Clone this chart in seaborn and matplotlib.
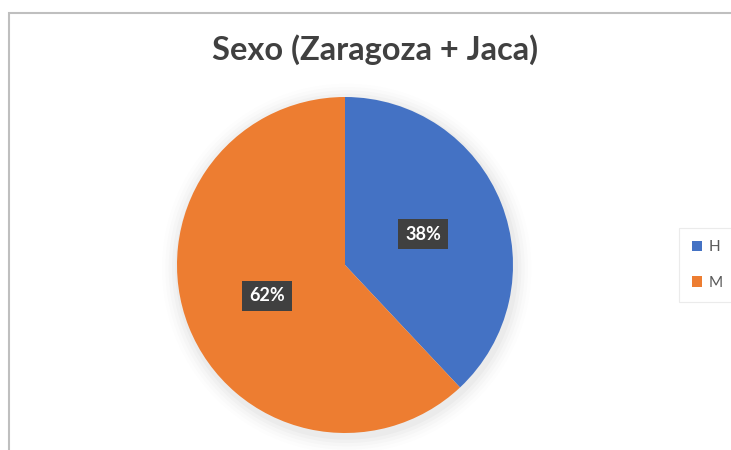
import matplotlib
matplotlib.use("Agg")
import matplotlib.pyplot as plt
import seaborn as sns
from matplotlib.patches import Rectangle, Patch, Circle

# data
labels = ["H", "M"]
shares = [38, 62]
colors = ["#4472C4", "#ED7D31"]
title = "Sexo (Zaragoza + Jaca)"

sns.set_theme(style="white")
plt.rcParams['font.family'] = ['Lato', 'DejaVu Sans']

fig = plt.figure(figsize=(7.31, 4.5), dpi=100)
fig.patch.set_facecolor("white")

# chart frame (gray border, cut by the image edge)
fig.patches.append(Rectangle((9 / 731, -0.1), 1.2, (450 - 13) / 450 + 0.1,
                             transform=fig.transFigure, fill=False,
                             edgecolor="#BFBFBF", linewidth=1.5))

cx, cy, r = 345, 265, 168
ax = fig.add_axes([(cx - r) / 731, (450 - cy - r) / 450, 2 * r / 731, 2 * r / 450])

# soft shadow
for i, a in enumerate([0.025, 0.02, 0.015, 0.01, 0.006]):
    c = Circle((0.01, -0.02), 1.0 + 0.02 * (i + 1), color="black",
               alpha=a, linewidth=0, zorder=0)
    c.set_clip_on(False)
    ax.add_patch(c)

wedges, texts, autotexts = ax.pie(shares, colors=colors, startangle=90, counterclock=False,
                                  autopct="%1.0f%%", pctdistance=0.5, radius=1.0,
                                  wedgeprops=dict(linewidth=0, zorder=2))
for w in wedges:
    w.set_clip_on(False)
for t in autotexts:
    t.set_color("white")
    t.set_fontsize(13)
    t.set_fontweight("bold")
    t.set_bbox(dict(boxstyle="square,pad=0.38", facecolor="#404040", edgecolor="none"))
    t.set_zorder(5)
ax.set_xlim(-1, 1)
ax.set_ylim(-1, 1)
ax.set_aspect("equal")
ax.axis("off")

fig.text(375 / 731, (450 - 50) / 450, title, ha="center", va="center",
         fontsize=23.5, fontweight="bold", color="#404040")

handles = [Patch(facecolor=c, edgecolor="none") for c in colors]
leg = fig.legend(handles, labels, loc="center", bbox_to_anchor=(707 / 731, (450 - 265) / 450),
                 frameon=True, fontsize=11, handlelength=0.7, handleheight=0.7,
                 handletextpad=0.4, labelspacing=1.4, borderpad=0.8, fancybox=False)
leg.get_frame().set_edgecolor("#E6E6E6")
leg.get_frame().set_linewidth(0.8)
for t in leg.get_texts():
    t.set_color("#595959")

fig.savefig("out.png", dpi=100)
